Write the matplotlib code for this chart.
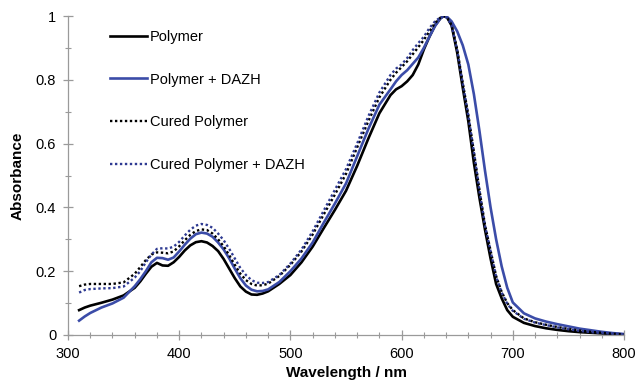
import matplotlib
matplotlib.use('Agg')
from matplotlib import pyplot as plt

wavelength = [310, 315, 320, 330, 340, 350, 360, 365, 370, 375, 380, 385, 390, 395,
              400, 405, 410, 415, 420, 425, 430, 435, 440, 445, 450, 455, 460, 465,
              470, 475, 480, 490, 500, 510, 520, 530, 540, 550, 560, 570, 580, 590,
              595, 600, 605, 610, 615, 620, 625, 630, 635, 638, 641, 645, 650, 655,
              660, 665, 670, 675, 680, 685, 690, 695, 700, 710, 720, 730, 740, 750,
              760, 770, 780, 790, 800]

polymer = [0.078, 0.086, 0.092, 0.101, 0.111, 0.124, 0.148, 0.168, 0.192, 0.214,
           0.226, 0.218, 0.217, 0.228, 0.245, 0.265, 0.281, 0.291, 0.294, 0.290,
           0.279, 0.263, 0.238, 0.208, 0.178, 0.152, 0.136, 0.127, 0.126, 0.130,
           0.137, 0.160, 0.188, 0.228, 0.277, 0.335, 0.392, 0.452, 0.530, 0.615,
           0.695, 0.752, 0.770, 0.780, 0.795, 0.815, 0.848, 0.895, 0.935, 0.970,
           0.993, 1.000, 0.995, 0.970, 0.885, 0.775, 0.670, 0.540, 0.430, 0.330,
           0.240, 0.160, 0.115, 0.078, 0.057, 0.038, 0.028, 0.021, 0.016, 0.012,
           0.009, 0.007, 0.005, 0.003, 0.002]

polymer_dazh = [0.045, 0.058, 0.069, 0.086, 0.099, 0.117, 0.153, 0.175, 0.200, 0.228,
                0.242, 0.241, 0.236, 0.243, 0.262, 0.283, 0.302, 0.316, 0.321, 0.318,
                0.308, 0.290, 0.268, 0.240, 0.208, 0.178, 0.155, 0.142, 0.137, 0.138,
                0.143, 0.166, 0.200, 0.240, 0.290, 0.352, 0.412, 0.475, 0.560, 0.645,
                0.722, 0.770, 0.795, 0.815, 0.830, 0.850, 0.870, 0.900, 0.935, 0.968,
                0.993, 1.000, 0.997, 0.983, 0.952, 0.908, 0.848, 0.755, 0.640, 0.515,
                0.400, 0.300, 0.215, 0.148, 0.102, 0.068, 0.052, 0.042, 0.034, 0.027,
                0.020, 0.015, 0.010, 0.006, 0.003]

cured = [0.153, 0.158, 0.160, 0.160, 0.160, 0.165, 0.192, 0.213, 0.235, 0.252,
         0.259, 0.258, 0.256, 0.262, 0.278, 0.297, 0.314, 0.326, 0.331, 0.329,
         0.318, 0.300, 0.278, 0.250, 0.220, 0.192, 0.172, 0.160, 0.155, 0.156,
         0.161, 0.185, 0.220, 0.262, 0.315, 0.378, 0.440, 0.505, 0.588, 0.670,
         0.745, 0.800, 0.822, 0.840, 0.858, 0.880, 0.902, 0.925, 0.952, 0.978,
         0.995, 1.000, 0.995, 0.972, 0.895, 0.790, 0.690, 0.575, 0.455, 0.345,
         0.265, 0.185, 0.135, 0.100, 0.078, 0.052, 0.040, 0.032, 0.025, 0.019,
         0.014, 0.010, 0.007, 0.004, 0.002]

cured_dazh = [0.133, 0.141, 0.144, 0.146, 0.147, 0.152, 0.180, 0.200, 0.228, 0.252,
              0.270, 0.272, 0.271, 0.277, 0.292, 0.312, 0.330, 0.343, 0.348, 0.345,
              0.336, 0.318, 0.297, 0.270, 0.240, 0.210, 0.188, 0.172, 0.164, 0.163,
              0.166, 0.188, 0.224, 0.268, 0.325, 0.390, 0.455, 0.520, 0.600, 0.685,
              0.760, 0.815, 0.835, 0.848, 0.868, 0.893, 0.915, 0.935, 0.962, 0.983,
              0.996, 1.000, 0.994, 0.970, 0.893, 0.788, 0.688, 0.573, 0.453, 0.343,
              0.263, 0.183, 0.133, 0.098, 0.076, 0.051, 0.039, 0.031, 0.024, 0.018,
              0.013, 0.009, 0.006, 0.004, 0.002]

labels = ['Polymer', 'Polymer + DAZH', 'Cured Polymer', 'Cured Polymer + DAZH']
x_ticks = [300, 400, 500, 600, 700, 800]
y_ticks = [0, 0.2, 0.4, 0.6, 0.8, 1]
y_tick_labels = ['0', '0.2', '0.4', '0.6', '0.8', '1']


def main():
  plt.rcParams['font.family'] = ['Liberation Sans', 'DejaVu Sans']
  blue = '#3b4ca8'
  navy = '#2e3a92'
  grey = '#9a9a9a'

  fig = plt.figure(figsize=(6.37, 3.81), dpi=100)
  ax = fig.add_axes([68 / 637, 46 / 381, 556 / 637, 319 / 381])

  ax.plot(wavelength, polymer, color='black', lw=1.9, label=labels[0])
  ax.plot(wavelength, polymer_dazh, color=blue, lw=1.9, label=labels[1])
  ax.plot(wavelength, cured, color='black', lw=1.7, ls=(0, (1, 1.1)),
          label=labels[2])
  ax.plot(wavelength, cured_dazh, color=navy, lw=1.7, ls=(0, (1, 1.1)),
          label=labels[3])

  ax.set_xlim(300, 800)
  ax.set_ylim(0, 1)
  ax.set_xticks(x_ticks)
  ax.set_xticks(range(300, 801, 20), minor=True)
  ax.set_yticks(y_ticks)
  ax.set_yticklabels(y_tick_labels)
  ax.set_yticks([0.1, 0.3, 0.5, 0.7, 0.9], minor=True)

  for side in ['top', 'right']:
    ax.spines[side].set_visible(False)
  for side in ['left', 'bottom']:
    ax.spines[side].set_color(grey)
    ax.spines[side].set_linewidth(0.9)
  ax.tick_params(which='major', direction='inout', length=7, width=0.9,
                 color=grey, labelsize=10.5, pad=5)
  ax.tick_params(which='minor', direction='inout', length=4, width=0.8,
                 color=grey)

  ax.set_xlabel('Wavelength / nm', fontsize=11, fontweight='bold', labelpad=4)
  ax.set_ylabel('Absorbance', fontsize=11, fontweight='bold', labelpad=8)

  # legend rows are spread far apart in the original
  ax.legend(loc='upper left', bbox_to_anchor=(110 / 637, 1 - 30 / 381),
            bbox_transform=fig.transFigure, frameon=False, fontsize=10.5,
            handlelength=2.55, handletextpad=0.2, labelspacing=1.96,
            borderpad=0, borderaxespad=0)

  fig.savefig('out.png', dpi=100)


if __name__ == '__main__':
  main()
